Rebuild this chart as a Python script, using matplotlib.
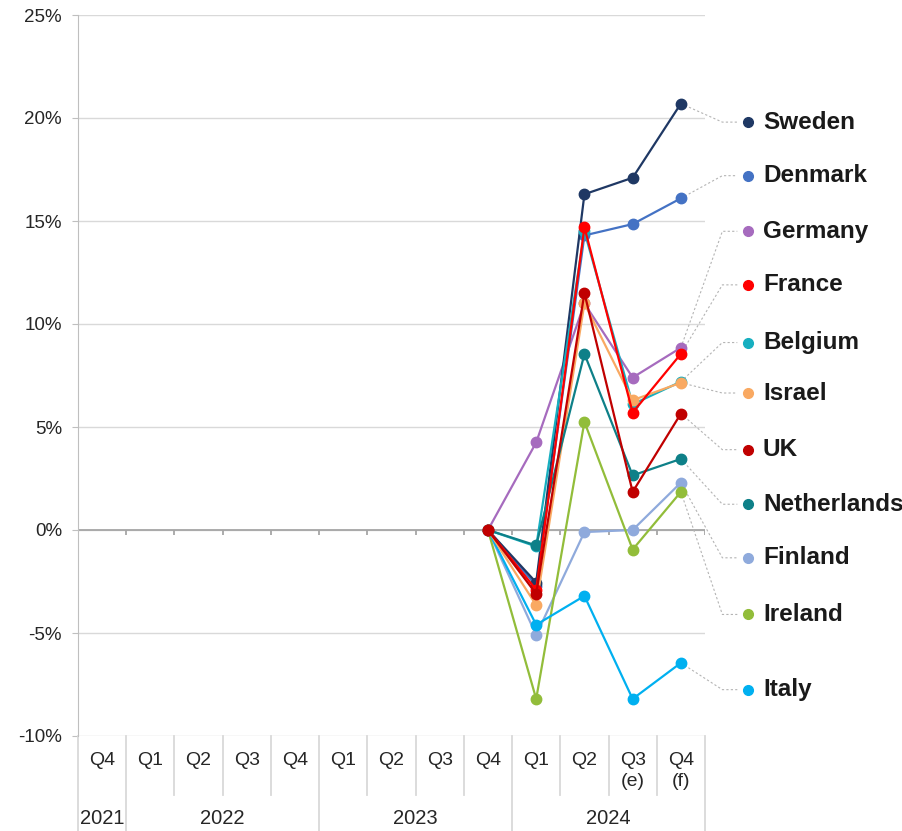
import numpy as np
import matplotlib.pyplot as plt
import matplotlib.transforms as mtransforms

plt.rcParams['font.family'] = ['Liberation Sans', 'DejaVu Sans']

# category axis
quarters = ['Q4', 'Q1', 'Q2', 'Q3', 'Q4', 'Q1', 'Q2', 'Q3', 'Q4',
            'Q1', 'Q2', 'Q3\n(e)', 'Q4\n(f)']
years = ['2021', '2022', '2023', '2024']
year_first = [0, 1, 5, 9]   # first quarter index of each year
year_last = [0, 4, 8, 12]

# series: Q4 2023 .. Q4 2024 (% change vs Q4 2023)
start_idx = 8
countries = ['Sweden', 'Denmark', 'Germany', 'France', 'Belgium', 'Israel',
             'UK', 'Netherlands', 'Finland', 'Ireland', 'Italy']
sweden = [0, -2.55, 16.3, 17.1, 20.7]
denmark = [0, -2.7, 14.3, 14.85, 16.1]
germany = [0, 4.25, 11.0, 7.4, 8.85]
france = [0, -2.9, 14.7, 5.7, 8.55]
belgium = [0, -0.8, 14.5, 6.1, 7.2]
israel = [0, -3.65, 11.0, 6.3, 7.15]
uk = [0, -3.1, 11.5, 1.85, 5.65]
netherlands = [0, -0.75, 8.55, 2.65, 3.45]
finland = [0, -5.1, -0.1, 0.0, 2.3]
ireland = [0, -8.2, 5.25, -0.95, 1.85]
italy = [0, -4.6, -3.2, -8.2, -6.45]
values = [sweden, denmark, germany, france, belgium, israel,
          uk, netherlands, finland, ireland, italy]
colors = ['#1F3864', '#4472C4', '#A66BBE', '#FF0000', '#17AFC0', '#F9A962',
          '#C00000', '#0E8088', '#8FAADC', '#92BD3A', '#00B0F0']
# drawing order (bottom to top)
draw_order = ['Germany', 'Denmark', 'Sweden', 'Belgium', 'Finland', 'Ireland',
              'Italy', 'Israel', 'Netherlands', 'France', 'UK']
# vertical position of the labels on the right (in % units)
label_y = [19.8, 17.2, 14.5, 11.9, 9.1, 6.65, 3.9, 1.25, -1.35, -4.1, -7.75]

fig = plt.figure(figsize=(9.02, 8.31), dpi=100)
ax = fig.add_axes([78 / 902, 1 - 736 / 831, 627 / 902, 721 / 831])
ax.set_xlim(-0.5, 12.5)
ax.set_ylim(-10, 25)

yt = np.arange(-10, 26, 5)
ax.set_yticks(yt)
ax.set_yticklabels([f'{v}%' for v in yt])
ax.tick_params(axis='y', length=4.5, color='#BFBFBF', labelsize=13.5, pad=7,
               labelcolor='#262626')
ax.set_xticks([])
ax.grid(axis='y', color='#D9D9D9', lw=1)
ax.set_axisbelow(True)
for s in ['top', 'right', 'bottom']:
    ax.spines[s].set_visible(False)
ax.spines['left'].set_color('#BFBFBF')

# zero line with small ticks
ax.axhline(0, color='#A6A6A6', lw=1.3, zorder=1)
bounds = np.arange(-0.5, 13, 1)
ax.vlines(bounds, -0.25, 0, color='#A6A6A6', lw=1.3, zorder=1)

# lines
x = np.arange(start_idx, start_idx + 5)
for z, name in enumerate(draw_order):
    i = countries.index(name)
    ax.plot(x, values[i], color=colors[i], lw=1.6, marker='o', ms=7.5,
            zorder=3 + z * 0.1)

# leader lines and labels
for i, name in enumerate(countries):
    ax.plot([x[-1], 12.86, 13.17], [values[i][-1], label_y[i], label_y[i]],
            color='#B4B4B4', lw=0.8, ls=(0, (2, 2)), clip_on=False, zorder=2)
    ax.plot(13.4, label_y[i], 'o', color=colors[i], ms=7, clip_on=False)
    ax.text(13.7, label_y[i], name, fontsize=17.5, fontweight='bold',
            va='center', ha='left', color='#1A1A1A', clip_on=False)

# category table below the plot
trans = mtransforms.blended_transform_factory(ax.transData, ax.transAxes)
q_bottom = (736 - 795) / 721
fig_bottom = -736 / 721
year_bounds = [year_first[k] - 0.5 for k in range(len(years))] + [12.5]
for b in bounds:
    low = fig_bottom if b in year_bounds else q_bottom
    ax.plot([b, b], [0, low], color='#D9D9D9', lw=1.3, transform=trans,
            clip_on=False)
for i, q in enumerate(quarters):
    ax.text(i, (736 - 752) / 721, q, transform=trans, ha='center', va='top',
            fontsize=14, color='#262626', linespacing=1.3)
for k, yr in enumerate(years):
    xc = (year_first[k] + year_last[k]) / 2
    ax.text(xc, (736 - 819) / 721, yr, transform=trans, ha='center',
            va='center', fontsize=14.5, color='#262626')

fig.savefig('out.png', dpi=100)
